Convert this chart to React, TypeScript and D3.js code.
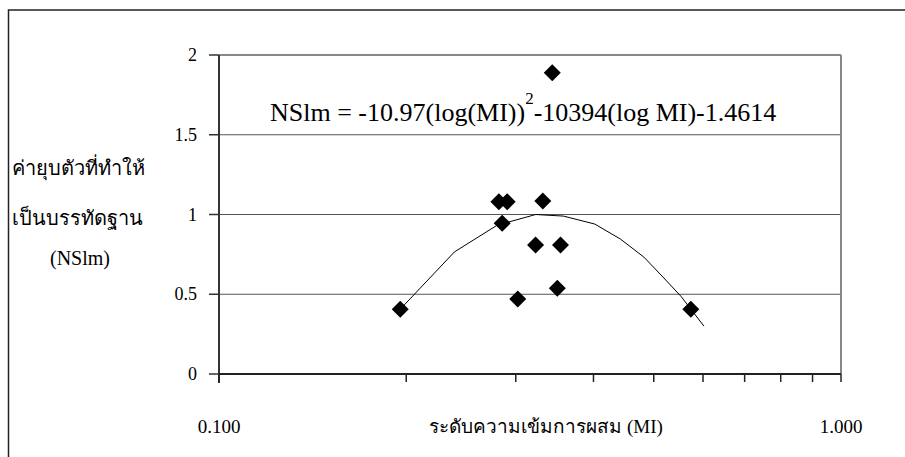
import React from "react";
import * as d3 from "d3";

const pointMI = [0.1956, 0.2818, 0.2906, 0.2853, 0.3316, 0.3228, 0.354, 0.3022, 0.3499, 0.3434, 0.5735];
const pointNSlm = [0.406, 1.08, 1.08, 0.945, 1.085, 0.809, 0.809, 0.47, 0.537, 1.889, 0.406];

const trendMI = [0.1956, 0.239, 0.28, 0.323, 0.358, 0.402, 0.442, 0.482, 0.519, 0.553, 0.602];
const trendNSlm = [0.406, 0.765, 0.933, 1.0, 0.99, 0.94, 0.846, 0.733, 0.602, 0.487, 0.3];

const yTicks = [0, 0.5, 1, 1.5, 2];
const yTickLabels = ["0", "0.5", "1", "1.5", "2"];
const xMinorTicks = [0.1, 0.2, 0.3, 0.4, 0.5, 0.6, 0.7, 0.8, 0.9, 1.0];
const xTickLabels = [
  { v: 0.1, t: "0.100" },
  { v: 1.0, t: "1.000" },
];

const xTitle = "ระดับความเข้มการผสม (MI)";
const yTitleLines = ["ค่ายุบตัวที่ทำให้", "เป็นบรรทัดฐาน", "(NSlm)"];
const eqMain = "NSlm = -10.97(log(MI))";
const eqSup = "2";
const eqRest = "-10394(log MI)-1.4614";

const FONT = "Liberation Serif";

export default function App() {
  const W = 905;
  const H = 457;
  const left = 219;
  const right = 841;
  const top = 55;
  const bottom = 374;

  const x = d3.scaleLog().domain([0.1, 1]).range([left, right]);
  const y = d3.scaleLinear().domain([0, 2]).range([bottom, top]);

  const trendData = trendMI.map((m, i) => [m, trendNSlm[i]] as [number, number]);
  const line = d3
    .line<[number, number]>()
    .x((d) => x(d[0]))
    .y((d) => y(d[1]));

  const r = 8.5;
  const diamond = (cx: number, cy: number) =>
    `M${cx},${cy - r}L${cx + r},${cy}L${cx},${cy + r}L${cx - r},${cy}Z`;

  return (
    <svg width={W} height={H} style={{ position: "absolute", left: 0, top: 0, background: "#fff" }}>
      <rect x={0} y={0} width={W} height={H} fill="#fff" />
      <rect x={8.5} y={10} width={W + 20} height={H + 20} fill="none" stroke="#222" strokeWidth={1.5} />

      {yTicks
        .filter((t) => t > 0 && t < 2)
        .map((t) => (
          <line key={"g" + t} x1={left} x2={right} y1={y(t)} y2={y(t)} stroke="#555" strokeWidth={1.2} />
        ))}
      <line x1={left} x2={right} y1={top} y2={top} stroke="#888" strokeWidth={2} />
      <line x1={right} x2={right} y1={top} y2={bottom} stroke="#888" strokeWidth={2} />

      <line x1={left} x2={left} y1={top} y2={bottom + 9} stroke="#333" strokeWidth={2} />
      {yTicks.map((t, i) => (
        <g key={"yt" + t}>
          <line x1={left - 10} x2={left} y1={y(t)} y2={y(t)} stroke="#333" strokeWidth={1.5} />
          <text x={197} y={y(t) + 6} textAnchor="end" fontSize={18} fill="#000" fontFamily={FONT}>
            {yTickLabels[i]}
          </text>
        </g>
      ))}

      <line x1={left} x2={right} y1={bottom} y2={bottom} stroke="#222" strokeWidth={2} />
      {xMinorTicks.map((t) => (
        <line key={"xt" + t} x1={x(t)} x2={x(t)} y1={bottom} y2={bottom + 8} stroke="#222" strokeWidth={1.5} />
      ))}
      {xTickLabels.map((d) => (
        <text key={d.t} x={x(d.v)} y={433} textAnchor="middle" fontSize={19} fill="#000" fontFamily={FONT}>
          {d.t}
        </text>
      ))}
      <text x={546} y={433} textAnchor="middle" fontSize={19} fill="#000" fontFamily={FONT}>
        {xTitle}
      </text>

      <text x={12} y={175} fontSize={20} fill="#000" fontFamily={FONT}>
        {yTitleLines[0]}
      </text>
      <text x={12} y={225} fontSize={20} fill="#000" fontFamily={FONT}>
        {yTitleLines[1]}
      </text>
      <text x={80} y={265} textAnchor="middle" fontSize={20} fill="#000" fontFamily={FONT}>
        {yTitleLines[2]}
      </text>

      <path d={line(trendData) || ""} fill="none" stroke="#000" strokeWidth={1} />

      {pointMI.map((m, i) => (
        <path key={"p" + i} d={diamond(x(m), y(pointNSlm[i]))} fill="#000" />
      ))}

      <text x={270} y={121} fontSize={26} fill="#000" fontFamily={FONT}>
        {eqMain}
        <tspan dy={-17} fontSize={17}>
          {eqSup}
        </tspan>
        <tspan dy={17} fontSize={26}>
          {eqRest}
        </tspan>
      </text>
    </svg>
  );
}
